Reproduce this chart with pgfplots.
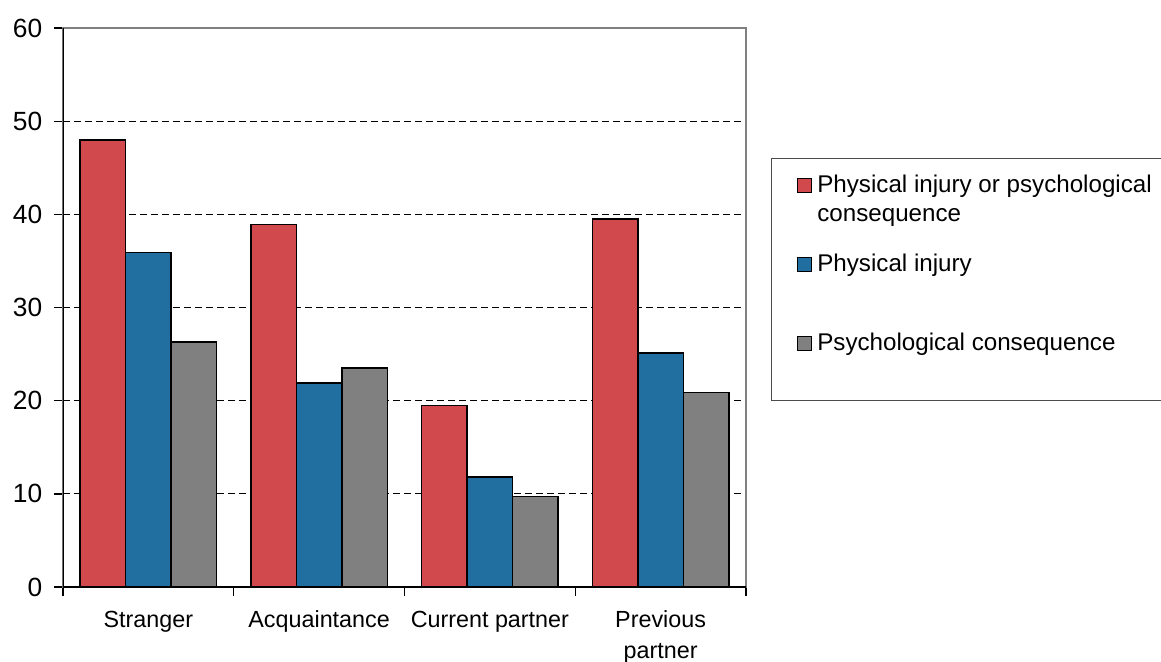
\documentclass[border=0pt]{standalone}
\usepackage{pgfplots}
\pgfplotsset{compat=1.18}
\usepackage{fontspec}
\setmainfont{Liberation Sans}
\definecolor{cred}{RGB}{209,73,77}
\definecolor{cblue}{RGB}{33,110,160}
\definecolor{cgray}{RGB}{128,128,128}

\begin{document}
\begin{tikzpicture}
% page frame in reference pixels (1px = 0.6pt), origin at axis corner
\useasboundingbox (-37.8pt,-44.4pt) rectangle (658.8pt,352.2pt);
\begin{axis}[
    at={(0,0)}, anchor=south west,
    scale only axis,
    width=409.8pt, height=335.4pt,
    ybar=0pt, bar width=27.3pt,
    xmin=-0.5, xmax=3.5,
    ymin=0, ymax=60,
    xtick={0,1,2,3},
    xticklabels={Stranger, Acquaintance, Current partner, {Previous\\partner}},
    minor xtick={-0.5,0.5,1.5,2.5,3.5},
    ytick={0,10,...,60},
    major x tick style={draw=none},
    minor tick length=5.4pt,
    major tick length=5.4pt,
    tick align=outside,
    xtick pos=bottom, ytick pos=left,
    ymajorgrids,
    major grid style={black, line width=0.5pt, dash pattern=on 4.2pt off 2.4pt},
    axis line style={cgray, line width=0.8pt},
    tick style={black, line width=0.8pt},
    /pgf/number format/assume math mode=true,
    yticklabel style={font=\fontsize{15.8}{18}\selectfont, xshift=-3.5pt},
    xticklabel style={font=\fontsize{14}{18.2}\selectfont, align=center, yshift=-5.5pt},
    every axis plot/.append style={draw=black, line width=0.9pt},
]
\addplot[fill=cred] coordinates {(0,48.0) (1,38.9) (2,19.5) (3,39.5)};
\addplot[fill=cblue] coordinates {(0,35.9) (1,21.9) (2,11.8) (3,25.1)};
\addplot[fill=cgray] coordinates {(0,26.3) (1,23.5) (2,9.7) (3,20.9)};
\draw[black, line width=0.8pt] (rel axis cs:0,1) -- (rel axis cs:0,0) -- (rel axis cs:1,0);
\end{axis}
% legend
\begin{scope}[x=0.6pt,y=0.6pt, every node/.style={anchor=base west, inner sep=0pt, font=\fontsize{14.5}{17.4}\selectfont}]
\draw[black!70, line width=0.6pt] (1120,428) -- (708,428) -- (708,186) -- (1120,186);
\draw[black, line width=0.6pt, fill=cred] (734,394) rectangle (748,408);
\node at (754,394) {Physical injury or psychological};
\node at (754,365) {consequence};
\draw[black, line width=0.6pt, fill=cblue] (734,315) rectangle (748,329);
\node at (754,315) {Physical injury};
\draw[black, line width=0.6pt, fill=cgray] (734,236) rectangle (748,250);
\node at (754,236) {Psychological consequence};
\end{scope}
\end{tikzpicture}
\end{document}
